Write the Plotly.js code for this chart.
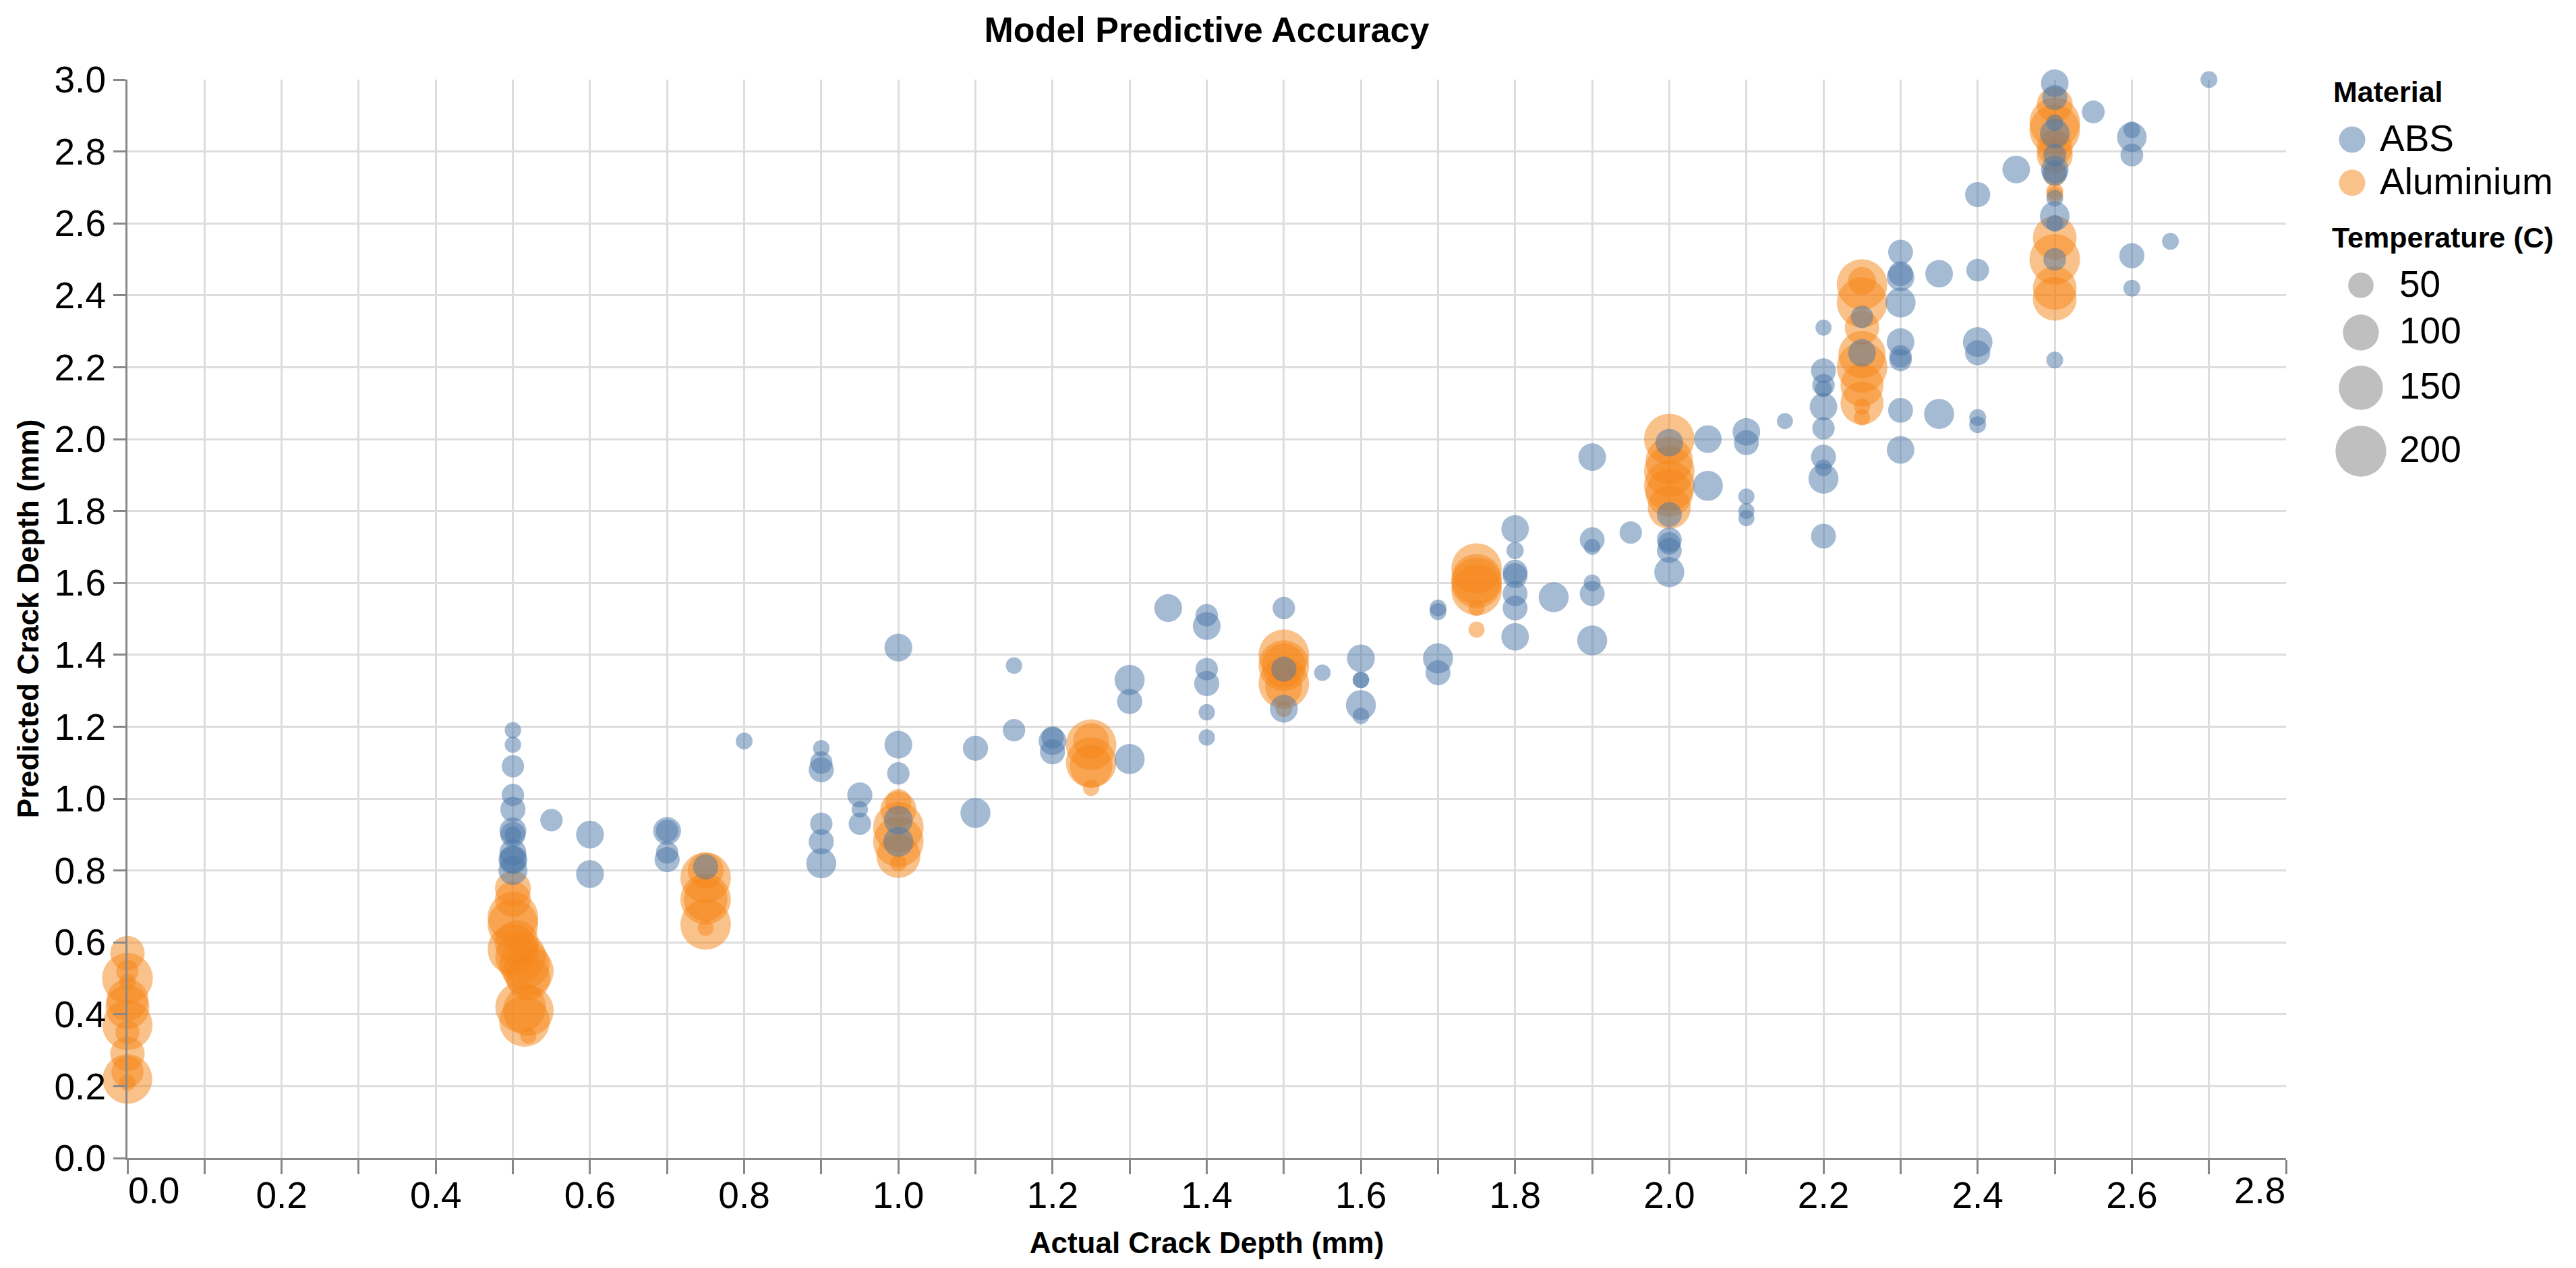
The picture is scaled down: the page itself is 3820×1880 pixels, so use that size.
<!DOCTYPE html>
<html><head><meta charset="utf-8">
<script src="https://cdn.plot.ly/plotly-3.0.1.min.js"></script>
<style>html,body{margin:0;padding:0;background:#fff}#chart{width:3820px;height:1880px}</style>
</head><body><div id="chart"></div>
<script>
// ---------------- data ----------------
const absX = [
  0.5,0.5,0.5,0.5,0.5,0.5,0.5,0.5,0.5,0.5,0.5,0.5,
  0.55,0.6,0.6,0.7,0.7,0.7,0.7,0.75,0.8,
  0.9,0.9,0.9,0.9,0.9,0.9,0.95,0.95,0.95,
  1.0,1.0,1.0,1.0,1.0,1.1,1.1,1.15,1.15,1.2,1.2,1.2,
  1.3,1.3,1.3,1.35,1.4,1.4,1.4,1.4,1.4,1.4,
  1.5,1.5,1.5,1.55,1.6,1.6,1.6,1.6,1.6,
  1.7,1.7,1.7,1.7,1.8,1.8,1.8,1.8,1.8,1.8,1.8,1.85,
  1.9,1.9,1.9,1.9,1.9,1.9,1.95,
  2.0,2.0,2.0,2.0,2.0,2.0,2.05,2.05,
  2.1,2.1,2.1,2.1,2.1,2.15,
  2.2,2.2,2.2,2.2,2.2,2.2,2.2,2.2,2.2,2.2,2.25,2.25,
  2.3,2.3,2.3,2.3,2.3,2.3,2.3,2.3,2.3,2.35,2.35,
  2.4,2.4,2.4,2.4,2.4,2.4,2.45,
  2.5,2.5,2.5,2.5,2.5,2.5,2.5,2.5,2.5,2.5,2.5,2.5,2.55,
  2.6,2.6,2.6,2.6,2.6,2.65,2.7
];
const absY = [
  1.19,1.15,1.09,1.01,0.97,0.91,0.90,0.90,0.85,0.83,0.83,0.80,
  0.94,0.90,0.79,0.91,0.91,0.85,0.83,0.81,1.16,
  1.14,1.10,1.08,0.93,0.88,0.82,1.01,0.97,0.93,
  1.42,1.15,1.07,0.94,0.88,1.14,0.96,1.37,1.19,1.17,1.16,1.13,
  1.33,1.27,1.11,1.53,1.51,1.48,1.36,1.32,1.24,1.17,
  1.53,1.36,1.25,1.35,1.39,1.33,1.33,1.26,1.23,
  1.53,1.52,1.39,1.35,1.75,1.69,1.63,1.62,1.57,1.53,1.45,1.56,
  1.95,1.72,1.70,1.60,1.57,1.44,1.74,
  1.99,1.79,1.72,1.71,1.69,1.63,2.00,1.87,
  2.02,1.99,1.84,1.80,1.78,2.05,
  2.31,2.19,2.15,2.14,2.09,2.03,1.95,1.92,1.89,1.73,2.34,2.24,
  2.52,2.46,2.45,2.38,2.27,2.23,2.22,2.08,1.97,2.46,2.07,
  2.68,2.47,2.27,2.24,2.06,2.04,2.75,
  2.99,2.95,2.88,2.85,2.79,2.75,2.74,2.67,2.62,2.60,2.50,2.22,2.91,
  2.86,2.84,2.79,2.51,2.42,2.55,3.00
];
const absTemp = [
  21,21,39,39,49,56,21,49,56,64,56,65,
  39,60,60,60,39,39,49,49,22,
  21,39,49,39,49,70,49,21,39,
  60,60,39,64,70,49,70,21,39,39,60,49,
  70,49,70,60,39,60,39,49,21,21,
  39,49,60,21,60,21,21,70,21,
  22,22,70,48,59,23,48,48,48,48,59,70,
  59,48,20,22,48,70,39,
  59,48,48,39,48,70,59,70,
  59,48,20,20,20,20,
  20,48,39,22,59,39,48,22,70,48,39,59,
  48,48,59,70,59,39,39,48,59,59,70,
  49,40,68,49,22,22,59,
  59,49,22,68,40,59,49,22,68,22,40,22,40,
  22,68,40,49,22,22,22
];

const alX = [
  0,0,0,0,0,0,0,0,0,0,0,0,
  0.50,0.50,0.50,0.50,0.505,0.50,0.51,0.515,0.52,0.52,0.51,0.52,0.515,0.52,
  0.75,0.75,0.75,0.75,0.75,0.75,
  1.0,1.0,1.0,1.0,1.0,1.0,
  1.25,1.25,1.25,1.25,1.25,
  1.5,1.5,1.5,1.5,1.5,1.5,
  1.75,1.75,1.75,1.75,1.75,1.75,
  2.0,2.0,2.0,2.0,2.0,2.0,
  2.25,2.25,2.25,2.25,2.25,2.25,2.25,2.25,2.25,2.25,
  2.5,2.5,2.5,2.5,2.5,2.5,2.5,2.5,2.5,2.5,2.5,2.5
];
const alY = [
  0.57,0.52,0.50,0.49,0.44,0.42,0.37,0.35,0.29,0.24,0.22,0.21,
  0.75,0.72,0.67,0.65,0.60,0.58,0.56,0.54,0.52,0.50,0.42,0.41,0.38,0.34,
  0.80,0.78,0.72,0.72,0.65,0.64,
  0.99,0.97,0.92,0.88,0.84,0.82,
  1.16,1.15,1.10,1.09,1.03,
  1.40,1.37,1.37,1.32,1.31,1.25,
  1.64,1.61,1.60,1.58,1.53,1.47,
  2.00,1.94,1.91,1.87,1.85,1.81,
  2.43,2.44,2.38,2.31,2.235,2.20,2.15,2.10,2.09,2.06,
  2.93,2.88,2.86,2.81,2.79,2.735,2.69,2.68,2.56,2.50,2.42,2.39
];
const alTemp = [
  92,39,200,21,137,150,195,45,92,80,191,21,
  100,100,198,198,150,198,198,198,198,150,198,198,198,20,
  100,198,198,149,198,19,
  53,100,198,198,149,21,
  100,198,198,141,21,
  198,149,198,198,107,21,
  198,198,198,198,20,20,
  198,173,198,198,173,144,
  198,60,198,92,173,198,144,144,20,20,
  100,198,198,100,100,40,22,22,148,198,148,148
];

const materials = ['ABS', 'Aluminium'];
const materialColors = ['#4c78a8', '#f58518'];
const tempLegendValues = [50, 100, 150, 200];
const xTickVals = [0,0.1,0.2,0.3,0.4,0.5,0.6,0.7,0.8,0.9,1.0,1.1,1.2,1.3,1.4,1.5,1.6,1.7,1.8,1.9,2.0,2.1,2.2,2.3,2.4,2.5,2.6,2.7,2.8];
const xTickLabels = ['0.0','','0.2','','0.4','','0.6','','0.8','','1.0','','1.2','','1.4','','1.6','','1.8','','2.0','','2.2','','2.4','','2.6','','2.8'];
const yTickVals = [0,0.2,0.4,0.6,0.8,1.0,1.2,1.4,1.6,1.8,2.0,2.2,2.4,2.6,2.8,3.0];
const yTickLabels = ['0.0','0.2','0.4','0.6','0.8','1.0','1.2','1.4','1.6','1.8','2.0','2.2','2.4','2.6','2.8','3.0'];

// ---------------- layout constants ----------------
const W = 3820, H = 1880;
const PL = 189, PR = 3390, PT = 118, PB = 1717;
const FONT = '"Liberation Sans", Arial, Helvetica, sans-serif';
const AREA_PER_DEG = 28.4;              // px^2 of marker area per degree C
const SIZEREF = 2 / AREA_PER_DEG;       // plotly area-mode sizeref
const GRID = '#dddddd', AXIS = '#888888';

// first & last x labels are flush-aligned (drawn as annotations); the rest are ordinary tick labels
const shownXText = xTickLabels.map((t, i) => (i === 0 || i === xTickLabels.length - 1) ? '' : t);

const markerBase = (color, sizes) => ({
  color: color, opacity: 0.5, size: sizes, sizemode: 'area', sizeref: SIZEREF, line: {width: 0}
});

const traces = [
  {type: 'scatter', mode: 'markers', name: materials[1], x: alX, y: alY,
   marker: markerBase(materialColors[1], alTemp), cliponaxis: false, hoverinfo: 'skip'},
  {type: 'scatter', mode: 'markers', name: materials[0], x: absX, y: absY,
   marker: markerBase(materialColors[0], absTemp), cliponaxis: false, hoverinfo: 'skip'},
  // legend: material swatches (pixel coordinates on hidden overlay axes)
  {type: 'scatter', mode: 'markers', xaxis: 'x2', yaxis: 'y2', x: [3488, 3488], y: [207, 271],
   marker: {color: materialColors, opacity: 0.5, size: 39, line: {width: 0}}, cliponaxis: false, hoverinfo: 'skip'},
  // legend: temperature sizes
  {type: 'scatter', mode: 'markers', xaxis: 'x2', yaxis: 'y2',
   x: tempLegendValues.map(() => 3501), y: [423, 493, 575, 669],
   marker: markerBase('#808080', tempLegendValues), cliponaxis: false, hoverinfo: 'skip'}
];

const ann = [];
const tickFont = {family: FONT, size: 55, color: '#000'};
ann.push({xref: 'x', yref: 'paper', x: xTickVals[0], y: 1 - PB / H, xanchor: 'left', yanchor: 'top',
  yshift: -16, text: xTickLabels[0], showarrow: false, font: tickFont, borderpad: 0});
ann.push({xref: 'x', yref: 'paper', x: xTickVals[xTickVals.length - 1], y: 1 - PB / H, xanchor: 'right', yanchor: 'top',
  yshift: -16, text: xTickLabels[xTickLabels.length - 1], showarrow: false, font: tickFont, borderpad: 0});

const legTitleFont = {family: FONT, size: 43, color: '#000', weight: 700};
const legLabelFont = {family: FONT, size: 55, color: '#000'};
const L = (x, y, text, font) => ({xref: 'x2', yref: 'y2', x: x, y: y, text: text, showarrow: false,
  xanchor: 'left', yanchor: 'middle', font: font, borderpad: 0});
ann.push(L(3459, 136, 'Material', legTitleFont));
ann.push(L(3528, 205, materials[0], legLabelFont));
ann.push(L(3528, 269, materials[1], legLabelFont));
ann.push(L(3457, 352, 'Temperature (C)', legTitleFont));
const tempLabelY = [421, 490, 572, 666];
tempLegendValues.forEach((v, i) => ann.push(L(3557, tempLabelY[i], String(v), legLabelFont)));

const layout = {
  width: W, height: H,
  margin: {l: 0, r: 0, t: 0, b: 0, pad: 0},
  paper_bgcolor: '#ffffff', plot_bgcolor: 'rgba(0,0,0,0)',
  showlegend: false,
  font: {family: FONT, color: '#000'},
  title: {text: 'Model Predictive Accuracy', font: {family: FONT, size: 52, weight: 700, color: '#000'},
          x: (PL + PR) / 2 / W, xref: 'container', xanchor: 'center',
          y: 1 - 44 / H, yref: 'container', yanchor: 'middle'},
  xaxis: {domain: [PL / W, PR / W], range: [0, 2.8], anchor: 'y',
          tickmode: 'array', tickvals: xTickVals, ticktext: shownXText,
          ticks: 'outside', ticklen: 21, tickwidth: 3, tickcolor: AXIS, ticklabelstandoff: -16,
          showgrid: true, gridcolor: GRID, gridwidth: 3,
          showline: true, linecolor: AXIS, linewidth: 3, zeroline: false,
          tickfont: tickFont, automargin: false, fixedrange: true,
          title: {text: 'Actual Crack Depth (mm)', font: {family: FONT, size: 44, weight: 700, color: '#000'}, standoff: 26}},
  yaxis: {domain: [1 - PB / H, 1 - PT / H], range: [0, 3], anchor: 'x',
          tickmode: 'array', tickvals: yTickVals, ticktext: yTickLabels,
          ticks: 'outside', ticklen: 18, tickwidth: 3, tickcolor: AXIS,
          showgrid: true, gridcolor: GRID, gridwidth: 3,
          showline: true, linecolor: AXIS, linewidth: 3, zeroline: false,
          tickfont: tickFont, automargin: false, fixedrange: true,
          title: {text: 'Predicted Crack Depth (mm)', font: {family: FONT, size: 44, weight: 700, color: '#000'}, standoff: 10}},
  xaxis2: {domain: [0, 1], range: [0, W], visible: false, anchor: 'y2', fixedrange: true},
  yaxis2: {domain: [0, 1], range: [H, 0], visible: false, anchor: 'x2', fixedrange: true},
  annotations: ann
};

Plotly.newPlot('chart', traces, layout, {staticPlot: true, displayModeBar: false});
</script>
</body></html>
